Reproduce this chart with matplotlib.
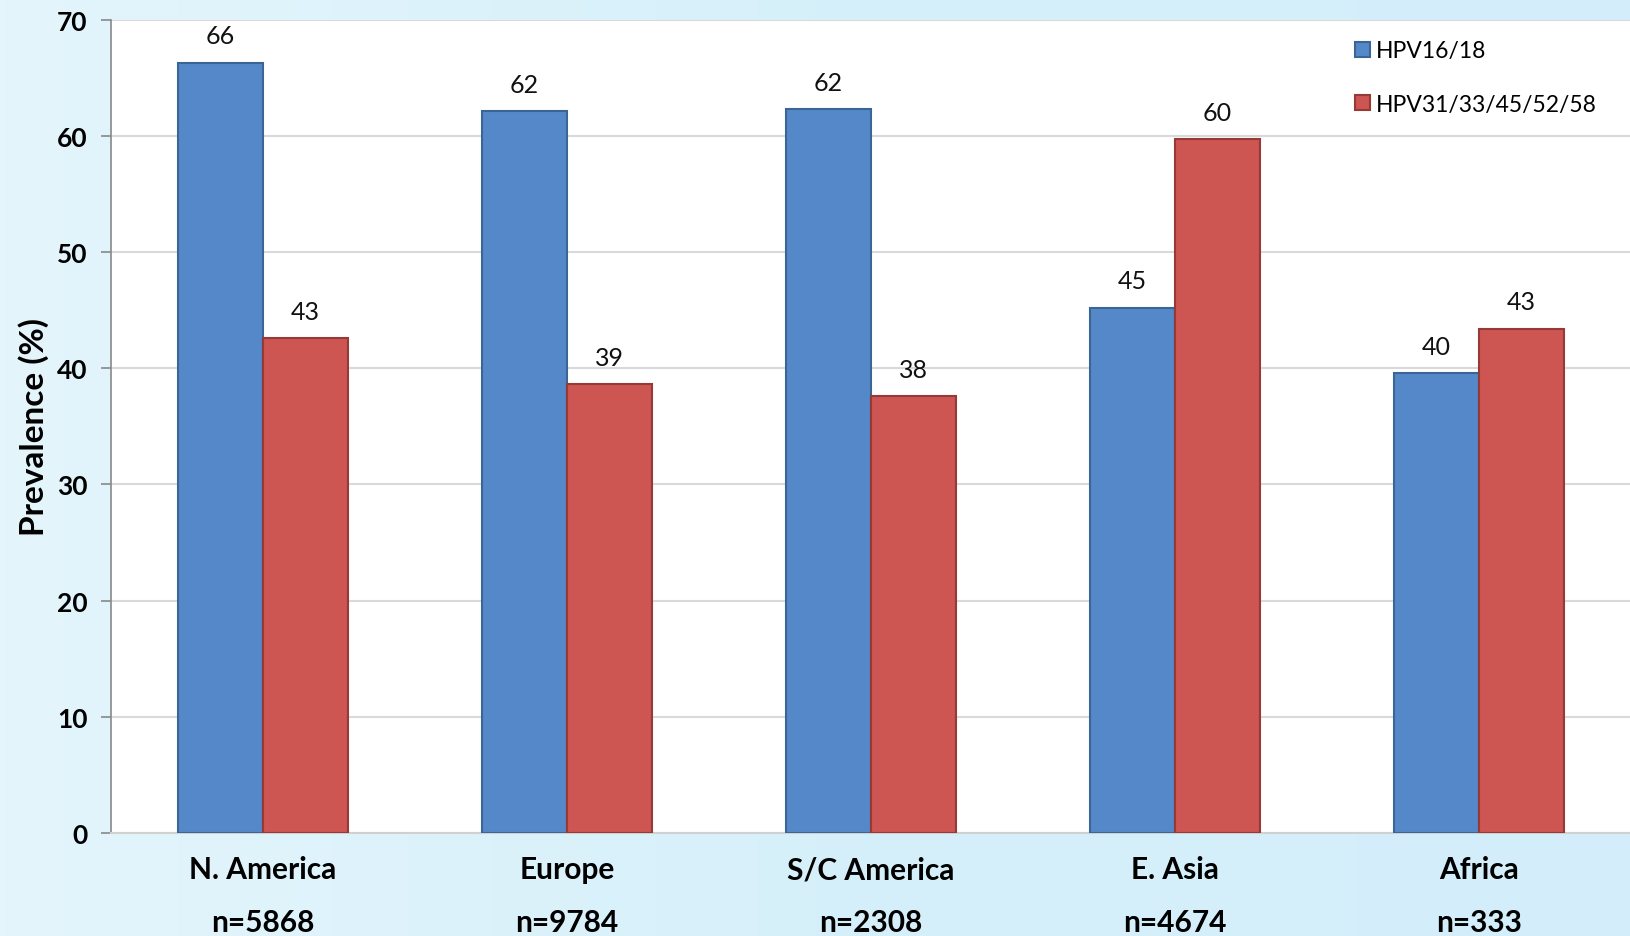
import matplotlib
matplotlib.use("Agg")
import matplotlib.pyplot as plt
import numpy as np

categories = ["N. America", "Europe", "S/C America", "E. Asia", "Africa"]
sample_sizes = ["n=5868", "n=9784", "n=2308", "n=4674", "n=333"]
hpv16_18 = [66.3, 62.1, 62.3, 45.2, 39.6]
hpv_other = [42.6, 38.6, 37.6, 59.7, 43.4]
series_names = ["HPV16/18", "HPV31/33/45/52/58"]
yticks = [0, 10, 20, 30, 40, 50, 60, 70]

plt.rcParams['font.family'] = ['Lato', 'DejaVu Sans']

fig = plt.figure(figsize=(16.31, 9.37), dpi=100)
fig.patch.set_facecolor('#dbf2fb')

# subtle background gradient
bg = fig.add_axes([0, 0, 1, 1], zorder=-10)
grad = np.linspace(0, 1, 256).reshape(1, -1)
from matplotlib.colors import LinearSegmentedColormap
cmap = LinearSegmentedColormap.from_list('bg', ['#e4f5fc', '#d6f0fa', '#d3eefa'])
bg.imshow(grad, aspect='auto', cmap=cmap, extent=[0, 1, 0, 1])
bg.axis('off')

ax = fig.add_axes([0.068, 0.110, 0.932, 0.868])
ax.set_facecolor('white')

x = np.arange(len(categories))
w = 0.28
blue = '#5588c8'
red = '#cd5552'
b1 = ax.bar(x - w / 2, hpv16_18, w, color=blue, edgecolor='#3a6597', linewidth=1.5,
            label=series_names[0], zorder=3)
b2 = ax.bar(x + w / 2, hpv_other, w, color=red, edgecolor='#963a38', linewidth=1.5,
            label=series_names[1], zorder=3)

for bars, vals in ((b1, hpv16_18), (b2, hpv_other)):
    ax.bar_label(bars, labels=[f"{v:.0f}" for v in vals], padding=11, fontsize=18,
                 color='#111111')

ax.set_xlim(-0.5, 4.5)
ax.set_ylim(0, 70)
ax.set_yticks(yticks)
ax.set_yticklabels([str(t) for t in yticks], fontsize=19, fontweight='bold')
ax.yaxis.grid(True, color='#d9d9d9', linewidth=1.5, zorder=0)
ax.set_axisbelow(True)

ax.set_xticks(x)
ax.set_xticklabels([f"{c}\n{n}" for c, n in zip(categories, sample_sizes)],
                   fontsize=21.5, fontweight='bold', linespacing=2.1)
ax.tick_params(axis='x', length=0, pad=16)
ax.tick_params(axis='y', length=7, color='#888888', pad=10, width=1.2)

for s in ['top', 'right']:
    ax.spines[s].set_visible(False)
ax.spines['left'].set_color('#888888')
ax.spines['left'].set_linewidth(1.2)
ax.spines['bottom'].set_color('#d0d0d0')
ax.spines['bottom'].set_linewidth(1.5)

ax.set_ylabel("Prevalence (%)", fontsize=24, fontweight='bold')
ax.yaxis.set_label_coords(-0.041, 0.5)

leg = ax.legend(loc='upper right', bbox_to_anchor=(0.991, 1.0), frameon=False,
                fontsize=16.5, labelspacing=1.42, handlelength=0.65, handleheight=0.65,
                handletextpad=0.25)

fig.savefig("out.png", dpi=100, facecolor=fig.get_facecolor())
